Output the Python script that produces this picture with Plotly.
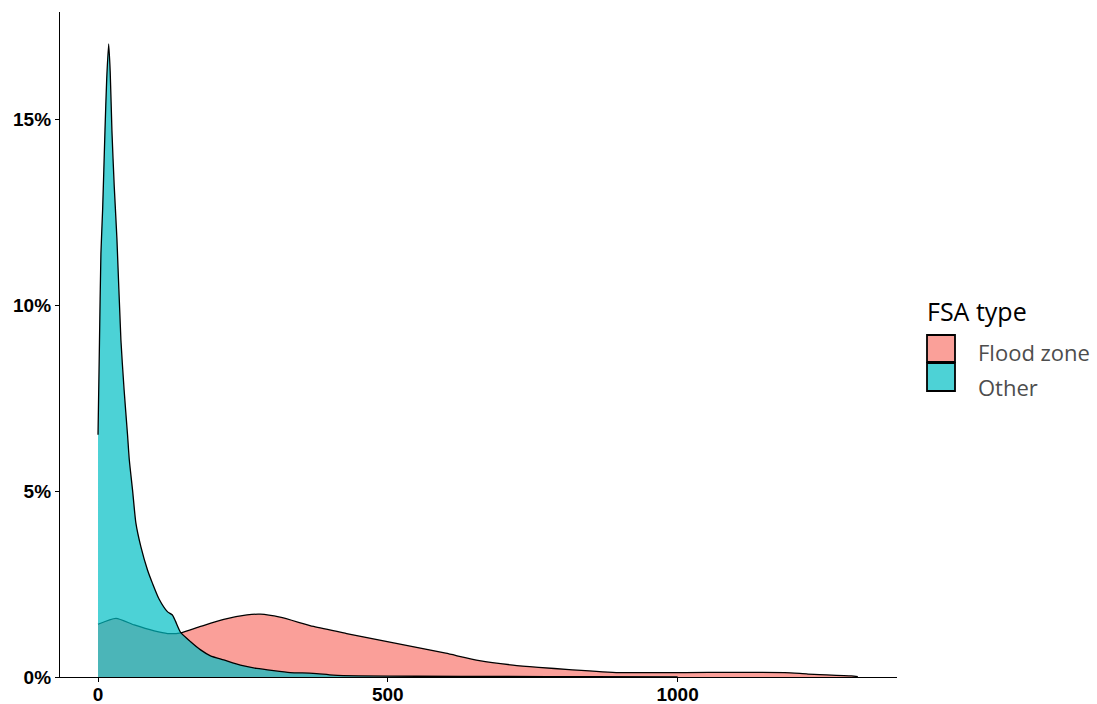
import plotly.graph_objects as go

# ---- data ----
fsa_types = ["Flood zone", "Other"]

flood_x = [0, 31, 62.5, 97, 120, 143, 177, 217, 257, 280, 314, 372, 429, 486, 543,
           600, 658, 716, 760, 813, 899, 1013, 1185, 1225, 1300, 1311]
flood_y = [0.0142, 0.0158, 0.0140, 0.0124, 0.0117, 0.0119, 0.0136, 0.0155, 0.0167,
           0.0169, 0.0161, 0.0136, 0.0117, 0.0099, 0.0082, 0.0064, 0.0044, 0.0032,
           0.0026, 0.0020, 0.0012, 0.0012, 0.0012, 0.0008, 0.0003, 0.0001]

other_x = [0, 2.5, 5, 8, 12, 15, 18.4, 21, 24, 28, 32.6, 39.5, 45, 51, 54, 59.6, 65.3,
           73.9, 85.4, 94, 105.3, 119.7, 128.3, 134, 142.6, 159.8, 177, 194, 217, 245.7,
           274, 303, 331.6, 371, 406, 450, 550, 700, 850, 1000]
other_y = [0.0652, 0.0900, 0.1140, 0.1260, 0.1470, 0.1610, 0.1704, 0.1630, 0.1470,
           0.1320, 0.1180, 0.0907, 0.0773, 0.0650, 0.0584, 0.0503, 0.0415, 0.0351,
           0.0288, 0.0252, 0.0210, 0.0176, 0.0167, 0.0149, 0.0120, 0.0095, 0.0073,
           0.0057, 0.0046, 0.0032, 0.0023, 0.0017, 0.0012, 0.0010, 0.0005, 0.0003,
           0.0002, 0.00015, 0.0001, 0.00005]

x_ticks = [0, 500, 1000]
y_ticks = [0, 0.05, 0.10, 0.15]

fill_colors = ["rgba(248,118,109,0.7)", "rgba(0,191,196,0.7)"]
key_colors = ["rgb(250,160,153)", "rgb(77,210,214)"]

fig = go.Figure()
for name, xs, ys, fc in zip(fsa_types, [flood_x, other_x], [flood_y, other_y], fill_colors):
    fig.add_trace(go.Scatter(
        x=xs, y=ys, mode="lines", name=name, fill="tozeroy",
        fillcolor=fc, line=dict(color="black", width=1.3, shape="spline", smoothing=0.6),
        showlegend=False, hoverinfo="skip"))

# plot area in pixels: x 60..897, y 12..677
W, H = 1097, 704
L, R, T, B = 60, 897, 12, 677

def px(x):
    return (x - L) / (R - L)
def py(y):
    return (B - y) / (B - T)

shapes = []
annotations = []
key_y = [(335, 362), (363, 391)]
for (y0, y1), kc in zip(key_y, key_colors):
    shapes.append(dict(type="rect", xref="paper", yref="paper",
                       x0=px(927), x1=px(955), y0=py(y1), y1=py(y0),
                       fillcolor=kc, line=dict(color="black", width=1.8)))
annotations.append(dict(text="FSA type", xref="paper", yref="paper", x=px(925), y=py(311),
                        xanchor="left", yanchor="middle", showarrow=False,
                        font=dict(family="Open Sans", size=25, color="black")))
for name, yc in zip(fsa_types, [352, 387]):
    annotations.append(dict(text=name, xref="paper", yref="paper", x=px(976), y=py(yc),
                            xanchor="left", yanchor="middle", showarrow=False,
                            font=dict(family="Open Sans", size=22, color="#4d4d4d")))

fig.update_layout(
    width=W, height=H,
    margin=dict(l=L, r=W - R, t=T, b=H - B, autoexpand=False),
    paper_bgcolor="white", plot_bgcolor="white",
    showlegend=False,
    shapes=shapes, annotations=annotations,
    xaxis=dict(range=[-65.6, 1378.6], tickvals=x_ticks, ticktext=[str(v) for v in x_ticks],
               automargin=False,
               showgrid=False, zeroline=False, showline=True, linecolor="black", linewidth=1.3,
               ticks="outside", ticklen=4, tickcolor="black", tickwidth=1.2,
               ticklabelstandoff=-4,
               tickfont=dict(family="Liberation Sans", size=19, color="black", weight="bold")),
    yaxis=dict(range=[0, 0.179], tickvals=y_ticks, tickformat=".0%",
               automargin=False,
               showgrid=False, zeroline=False, showline=True, linecolor="black", linewidth=1.3,
               ticks="outside", ticklen=4, tickcolor="black", tickwidth=1.2,
               tickfont=dict(family="Liberation Sans", size=19, color="black", weight="bold")),
)

pin_js = (
    "document.documentElement.style.margin='0';"
    "document.body.style.margin='0';"
    "document.documentElement.style.overflow='hidden';"
    "document.body.style.overflow='hidden';"
    "var d=document.getElementById('{plot_id}');"
    "d.style.position='fixed';d.style.top='0px';d.style.left='0px';"
)

fig.write_html("out.html", config={"displayModeBar": False}, post_script=pin_js)
